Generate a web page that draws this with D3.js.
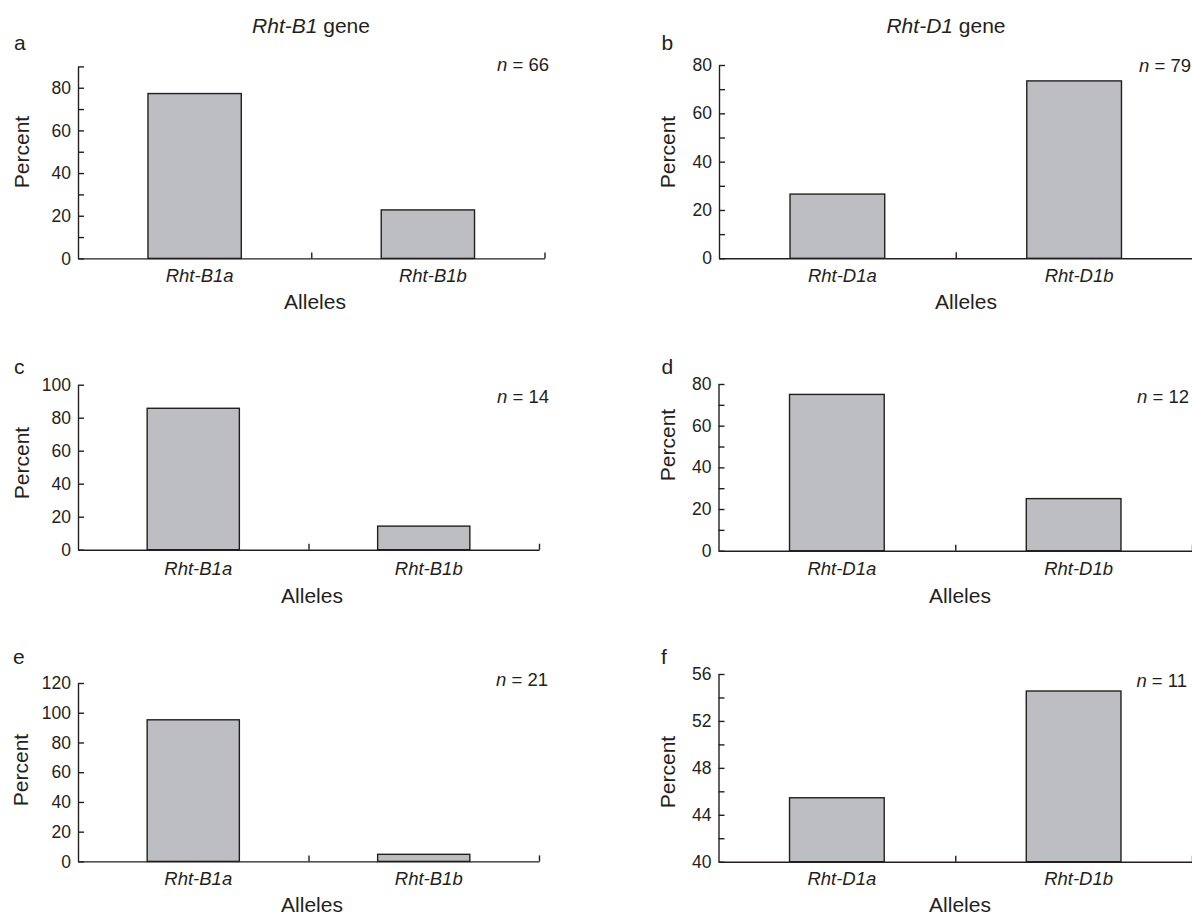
<!DOCTYPE html>
<html>
<head>
<meta charset="utf-8">
<script src="https://cdn.jsdelivr.net/npm/d3@7"></script>
<style>
  body { margin: 0; background: #fff; }
  svg { display: block; font-family: "Liberation Sans", Arial, sans-serif; }
</style>
</head>
<body>
<svg id="main-svg" width="1192" height="916"></svg>
<script>
// ---- data ----
const panelLetters = ["a", "b", "c", "d", "e", "f"];
const geneNames = ["Rht-B1", "Rht-D1"];
const allelesB1 = ["Rht-B1a", "Rht-B1b"];
const allelesD1 = ["Rht-D1a", "Rht-D1b"];
const sampleSizes = [66, 79, 14, 12, 21, 11];

const percentA = [77.27, 22.73];
const percentB = [26.58, 73.42];
const percentC = [85.71, 14.29];
const percentD = [75.0, 25.0];
const percentE = [95.24, 4.76];
const percentF = [45.45, 54.55];

const domainA = [0, 90], majorA = [0, 20, 40, 60, 80], minorA = [10, 30, 50, 70, 90];
const domainB = [0, 80], majorB = [0, 20, 40, 60, 80], minorB = [10, 30, 50, 70];
const domainC = [0, 100], majorC = [0, 20, 40, 60, 80, 100], minorC = [];
const domainD = [0, 80], majorD = [0, 20, 40, 60, 80], minorD = [10, 30, 50, 70];
const domainE = [0, 120], majorE = [0, 20, 40, 60, 80, 100, 120], minorE = [];
const domainF = [40, 56], majorF = [40, 44, 48, 52, 56], minorF = [42, 46, 50, 54];

const values = [percentA, percentB, percentC, percentD, percentE, percentF];
const domains = [domainA, domainB, domainC, domainD, domainE, domainF];
const majors = [majorA, majorB, majorC, majorD, majorE, majorF];
const minors = [minorA, minorB, minorC, minorD, minorE, minorF];

// ---- layout (pixel positions of each panel) ----
const layout = [
  {x0: 78,    x1: 544.5, y0: 258.4, y1: 66.4, lx: 14,  ly: 50,  nx: 549,  ny: 71,  cy: 282, ax: 315, ay: 309, px: 22,  py: 152},
  {x0: 719,   x1: 1192.5, y0: 258.3, y1: 65,  lx: 661.5, ly: 50, nx: 1191, ny: 72,  cy: 282, ax: 966, ay: 309, px: 668, py: 152},
  {x0: 78,    x1: 539,   y0: 549.7, y1: 384.7, lx: 14, ly: 374, nx: 549,  ny: 403, cy: 575, ax: 312, ay: 603, px: 22,  py: 463},
  {x0: 718.5, x1: 1192,  y0: 550.7, y1: 384,  lx: 661.5, ly: 374, nx: 1189, ny: 403, cy: 575, ax: 960, ay: 603, px: 668, py: 445},
  {x0: 78,    x1: 539,   y0: 861.4, y1: 683,  lx: 13,  ly: 664, nx: 548,  ny: 686, cy: 885, ax: 312, ay: 912, px: 21,  py: 770},
  {x0: 718.5, x1: 1192,  y0: 861.7, y1: 674,  lx: 661, ly: 664, nx: 1187, ny: 687, cy: 885, ax: 960, ay: 912, px: 668, py: 772}
];

const ink = "#231f20";
const barFill = "#bdbec2";
const svg = d3.select("#main-svg");

// gene titles over the two columns
const titleX = [311, 946];
geneNames.forEach((g, i) => {
  const t = svg.append("text")
    .attr("x", titleX[i])
    .attr("y", 33)
    .attr("text-anchor", "middle")
    .attr("font-size", "21px")
    .attr("fill", ink);
  t.append("tspan").attr("font-style", "italic").text(g);
  t.append("tspan").text(" gene");
});

panelLetters.forEach((letter, i) => {
  const L = layout[i];
  const cats = i % 2 === 0 ? allelesB1 : allelesD1;
  const g = svg.append("g");

  const x = d3.scaleBand()
    .domain(cats)
    .range([L.x0, L.x1])
    .paddingInner(0.6)
    .paddingOuter(0.3);

  const y = d3.scaleLinear()
    .domain(domains[i])
    .range([L.y0, L.y1]);

  // bars
  g.selectAll(".bar")
    .data(cats.map((c, j) => ({cat: c, v: values[i][j]})))
    .enter()
    .append("rect")
    .attr("x", d => x(d.cat))
    .attr("y", d => y(d.v))
    .attr("width", x.bandwidth())
    .attr("height", d => L.y0 - y(d.v))
    .attr("fill", barFill)
    .attr("stroke", ink)
    .attr("stroke-width", 1.4);

  // y axis, ticks pointing inward
  const yAxis = g.append("g")
    .attr("transform", `translate(${L.x0},0)`)
    .call(d3.axisLeft(y).tickValues(majors[i]).tickSizeInner(-6).tickSizeOuter(0).tickPadding(7));
  yAxis.selectAll("text").attr("font-size", "17.5px").attr("fill", ink).attr("font-family", null);

  if (minors[i].length) {
    g.append("g")
      .attr("transform", `translate(${L.x0},0)`)
      .call(d3.axisLeft(y).tickValues(minors[i]).tickSizeInner(-6).tickSizeOuter(0).tickFormat(""))
      .select(".domain").remove();
  }

  // x axis with separator ticks between categories
  const xSep = d3.scaleLinear().domain([0, cats.length]).range([L.x0, L.x1]);
  const xAxis = g.append("g")
    .attr("transform", `translate(0,${L.y0})`)
    .call(d3.axisBottom(xSep).tickValues([1, 2]).tickSizeInner(-6).tickSizeOuter(0).tickFormat(""));

  g.selectAll(".domain, .tick line").attr("stroke", ink).attr("stroke-width", 1.4);

  // category labels
  g.selectAll(".cat")
    .data(cats)
    .enter()
    .append("text")
    .attr("x", d => x(d) + x.bandwidth() / 2 + 5)
    .attr("y", L.cy)
    .attr("text-anchor", "middle")
    .attr("font-size", "18.5px")
    .attr("font-style", "italic")
    .attr("fill", ink)
    .text(d => d);

  // axis titles
  g.append("text")
    .attr("x", L.ax)
    .attr("y", L.ay)
    .attr("text-anchor", "middle")
    .attr("font-size", "21px")
    .attr("fill", ink)
    .text("Alleles");

  g.append("text")
    .attr("transform", `translate(${L.px},${L.py}) rotate(-90)`)
    .attr("dy", "0.35em")
    .attr("text-anchor", "middle")
    .attr("font-size", "21px")
    .attr("fill", ink)
    .text("Percent");

  // panel letter
  g.append("text")
    .attr("x", L.lx)
    .attr("y", L.ly)
    .attr("font-size", "21px")
    .attr("fill", ink)
    .text(letter);

  // sample size
  const n = g.append("text")
    .attr("x", L.nx)
    .attr("y", L.ny)
    .attr("text-anchor", "end")
    .attr("font-size", "18.5px")
    .attr("fill", ink);
  n.append("tspan").attr("font-style", "italic").text("n");
  n.append("tspan").text(" = " + sampleSizes[i]);
});
</script>
</body>
</html>
